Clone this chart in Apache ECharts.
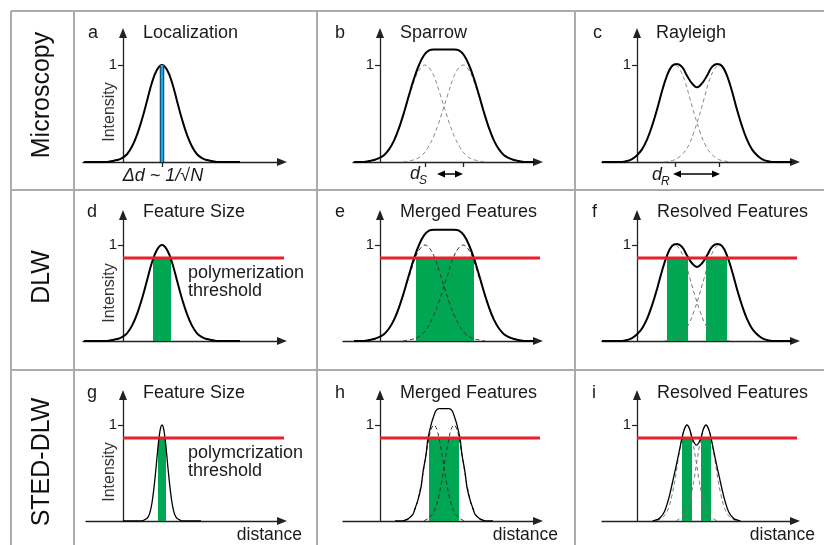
<!DOCTYPE html>
<html>
<head>
<meta charset="utf-8">
<title>Resolution limits: microscopy, DLW, STED-DLW</title>
<script src="https://cdn.jsdelivr.net/npm/echarts@6/dist/echarts.min.js"></script>
<style>
  html, body { margin: 0; padding: 0; background: #fff; }
  #chart { width: 824px; height: 545px; }
</style>
</head>
<body>
<div id="chart"></div>
<script>
// distance is in px-sized units measured from each y axis; intensity 1 = single peak height

// a, d: single diffraction-limited spot
var psfX = [-39, -16, -11, -6, -1, 4, 9, 14, 19, 24, 29, 34, 39, 44, 49, 54, 59, 64, 69, 74, 79, 84, 89, 94, 117];
var psfY = [0, 0, 0.01, 0.02, 0.04, 0.08, 0.16, 0.28, 0.44, 0.63, 0.82, 0.95, 1, 0.95, 0.82, 0.63, 0.44, 0.28, 0.16, 0.08, 0.04, 0.02, 0.01, 0, 0];
var localizationX = 39;

// b, e: Sparrow pair
var sparrowX = [-26, -16, -11, -6, -1, 4, 9, 14, 19, 24, 29, 34, 39, 44, 49, 54, 59, 64, 69, 74, 79, 84, 89, 94, 99, 104, 109, 114, 119, 124, 129, 134, 139, 144, 154];
var sparrowY = [0, 0, 0.01, 0.02, 0.04, 0.07, 0.13, 0.22, 0.35, 0.51, 0.69, 0.86, 1.00, 1.10, 1.15, 1.16, 1.16, 1.16, 1.16, 1.16, 1.15, 1.10, 1.00, 0.86, 0.69, 0.51, 0.35, 0.22, 0.13, 0.07, 0.04, 0.02, 0.01, 0, 0];
var sparrowLeftX = [-15, -10, -5, 0, 5, 10, 15, 20, 25, 30, 35, 40, 45, 50, 55, 60, 65, 70, 75, 80, 85, 90, 95, 100, 105];
var sparrowRightX = [23, 28, 33, 38, 43, 48, 53, 58, 63, 68, 73, 78, 83, 88, 93, 98, 103, 108, 113, 118, 123, 128, 133, 138, 143];
var sparrowDashY = [0, 0.01, 0.02, 0.04, 0.08, 0.15, 0.25, 0.38, 0.54, 0.70, 0.86, 0.96, 1, 0.96, 0.86, 0.70, 0.54, 0.38, 0.25, 0.15, 0.08, 0.04, 0.02, 0.01, 0];
var sparrowTicks = [45, 83];

// c, f: Rayleigh pair
var rayleighX = [-35, -20, -15, -10, -5, 0, 5, 10, 15, 20, 25, 30, 35, 40, 45, 50, 55, 60, 65, 70, 75, 80, 85, 90, 95, 100, 105, 110, 115, 120, 125, 130, 135, 140, 155];
var rayleighY = [0, 0, 0, 0.01, 0.03, 0.07, 0.13, 0.23, 0.37, 0.54, 0.73, 0.89, 0.99, 1.01, 0.98, 0.89, 0.81, 0.77, 0.81, 0.89, 0.98, 1.01, 0.99, 0.89, 0.73, 0.54, 0.37, 0.23, 0.13, 0.07, 0.03, 0.01, 0, 0, 0];
var rayleighLeftX = [-17, -12, -7, -2, 3, 8, 13, 18, 23, 28, 33, 38, 43, 48, 53, 58, 63, 68, 73, 78, 83, 88, 93];
var rayleighRightX = [27, 32, 37, 42, 47, 52, 57, 62, 67, 72, 77, 82, 87, 92, 97, 102, 107, 112, 117, 122, 127, 132, 137];
var rayleighDashY = [0, 0.01, 0.02, 0.05, 0.10, 0.18, 0.31, 0.47, 0.65, 0.83, 0.95, 1, 0.95, 0.83, 0.65, 0.47, 0.31, 0.18, 0.10, 0.05, 0.02, 0.01, 0];
var rayleighTicks = [38, 82];

// g: STED spot
var stedX = [0, 19, 21, 23, 25, 27, 29, 31, 33, 35, 37, 39, 41, 43, 45, 47, 49, 51, 53, 55, 57, 59, 78];
var stedY = [0, 0, 0.01, 0.02, 0.04, 0.09, 0.19, 0.35, 0.55, 0.77, 0.94, 1, 0.94, 0.77, 0.55, 0.35, 0.19, 0.09, 0.04, 0.02, 0.01, 0, 0];

// h: merged STED pair
var stedMergedX = [15, 22, 25, 28, 30, 33, 35, 38, 41, 43, 46, 48, 51, 54, 56, 59, 61, 64, 67, 69, 72, 74, 77, 80, 82, 85, 87, 90, 93, 95, 98, 100, 103, 106, 113];
var stedMergedY = [0, 0, 0.01, 0.02, 0.04, 0.07, 0.13, 0.22, 0.35, 0.51, 0.69, 0.86, 1.00, 1.10, 1.15, 1.17, 1.17, 1.17, 1.17, 1.17, 1.15, 1.10, 1.00, 0.86, 0.69, 0.51, 0.35, 0.22, 0.13, 0.07, 0.04, 0.02, 0.01, 0, 0];
var stedMergedLeftX = [24, 27, 30, 33, 36, 39, 42, 45, 48, 51, 54, 57, 60, 63, 66, 69, 72, 75, 78, 81, 84];
var stedMergedRightX = [44, 47, 50, 53, 56, 59, 62, 65, 68, 71, 74, 77, 80, 83, 86, 89, 92, 95, 98, 101, 104];

// i: resolved STED pair
var stedResolvedX = [15.5, 18.5, 21.5, 24.5, 27.5, 30.5, 33.5, 36.5, 39.5, 42.5, 45, 47.5, 50, 52.5, 55, 57.5, 59.5, 61.5, 64, 66.5, 69, 71.5, 74, 76.5, 79.5, 82.5, 85.5, 88.5, 91.5, 94.5, 97.5, 100.5, 103.5];
var stedResolvedY = [0, 0.01, 0.02, 0.05, 0.10, 0.19, 0.31, 0.45, 0.59, 0.74, 0.865, 0.96, 1.00, 0.96, 0.865, 0.81, 0.79, 0.81, 0.865, 0.96, 1.00, 0.96, 0.865, 0.74, 0.59, 0.45, 0.31, 0.19, 0.10, 0.05, 0.02, 0.01, 0];
var stedResolvedLeftX = [20, 23, 26, 29, 32, 35, 38, 41, 44, 47, 50, 53, 56, 59, 62, 65, 68, 71, 74, 77, 80];
var stedResolvedRightX = [39, 42, 45, 48, 51, 54, 57, 60, 63, 66, 69, 72, 75, 78, 81, 84, 87, 90, 93, 96, 99];
var stedDashY = [0, 0.02, 0.04, 0.08, 0.15, 0.27, 0.43, 0.63, 0.81, 0.95, 1, 0.95, 0.81, 0.63, 0.43, 0.27, 0.15, 0.08, 0.04, 0.02, 0];

// polymerization threshold and written (green) regions
var threshold = 0.865;
var thresholdEnd = [164, 163, 162, 164, 163, 163];   // panels d..i
var writtenD = [[30, 48]];
var writtenE = [[36, 94]];
var writtenF = [[30, 51], [69, 90]];
var writtenG = [[35, 43]];
var writtenH = [[49, 79]];
var writtenI = [[45, 55], [64, 74]];

var yTicks = [1];
var rowNames = ['Microscopy', 'DLW', 'STED-DLW'];
var panelLetters = ['a', 'b', 'c', 'd', 'e', 'f', 'g', 'h', 'i'];
var panelTitles = ['Localization', 'Sparrow', 'Rayleigh', 'Feature Size', 'Merged Features', 'Resolved Features', 'Feature Size', 'Merged Features', 'Resolved Features'];

var FONT = 'Liberation Sans';
var INK = '#1a1a1a';
var RED = '#e8202a';
var GREEN = '#00a651';

// grid boxes, one per panel (px)
var boxes = [
    { left: 83, top: 33, width: 199, height: 129, min: -40, max: 159, ymax: 1.33, ticks: [localizationX] },
    { left: 353, top: 33, width: 185, height: 129, min: -27, max: 158, ymax: 1.33, ticks: sparrowTicks },
    { left: 602, top: 33, width: 193, height: 129, min: -35, max: 158, ymax: 1.33, ticks: rayleighTicks },
    { left: 83, top: 215, width: 199, height: 126, min: -40, max: 159, ymax: 1.3125 },
    { left: 343, top: 215, width: 195, height: 126, min: -37, max: 158, ymax: 1.3125 },
    { left: 602, top: 215, width: 193, height: 126, min: -35, max: 158, ymax: 1.3125 },
    { left: 86, top: 395, width: 196, height: 126, min: -37, max: 159, ymax: 1.3125 },
    { left: 343, top: 395, width: 195, height: 126, min: -37, max: 158, ymax: 1.3125 },
    { left: 602, top: 395, width: 193, height: 126, min: -35, max: 158, ymax: 1.3125 }
];

var axisLine = {
    show: true,
    onZero: true,
    symbol: ['none', 'triangle'],
    symbolSize: [8, 10],
    lineStyle: { color: '#222', width: 1.3 }
};

var grids = [], xAxes = [], yAxes = [];
boxes.forEach(function (b, i) {
    grids.push({ left: b.left, top: b.top, width: b.width, height: b.height, containLabel: false });
    xAxes.push({
        type: 'value', gridIndex: i, min: b.min, max: b.max,
        axisLine: axisLine,
        axisTick: b.ticks ? { show: true, customValues: b.ticks, length: 5, lineStyle: { color: '#222', width: 1.3 } } : { show: false },
        axisLabel: { show: false },
        splitLine: { show: false }
    });
    yAxes.push({
        type: 'value', gridIndex: i, min: 0, max: b.ymax,
        axisLine: axisLine,
        axisTick: { show: true, customValues: yTicks, length: 5, lineStyle: { color: '#222', width: 1.2 } },
        // labels stay at the grid edge, so pull them in next to the zero-line axis
        axisLabel: { show: true, customValues: yTicks, margin: 6 + b.min, fontSize: 15, color: INK, fontFamily: FONT },
        splitLine: { show: false }
    });
});

function pairs(xs, ys) {
    return xs.map(function (x, i) { return [x, ys[i]]; });
}

function curve(p, xs, ys, width) {
    return {
        type: 'line', xAxisIndex: p, yAxisIndex: p, data: pairs(xs, ys),
        smooth: 0.4, symbol: 'none', silent: true,
        lineStyle: { color: '#000', width: width }
    };
}

function dashed(p, xs, ys, color) {
    return {
        type: 'line', xAxisIndex: p, yAxisIndex: p, data: pairs(xs, ys),
        smooth: 0.4, symbol: 'none', silent: true,
        lineStyle: { color: color, width: 1, type: [4, 3] }
    };
}

function written(p, spans) {
    return spans.map(function (s) {
        return {
            type: 'line', xAxisIndex: p, yAxisIndex: p,
            data: [[s[0], threshold], [s[1], threshold]],
            symbol: 'none', silent: true,
            lineStyle: { width: 0 },
            areaStyle: { color: GREEN, opacity: 1 }
        };
    });
}

function thresholdLine(p) {
    return {
        type: 'line', xAxisIndex: p, yAxisIndex: p, clip: false,
        data: [[0, threshold], [thresholdEnd[p - 3], threshold]],
        symbol: 'none', silent: true,
        lineStyle: { color: RED, width: 3 }
    };
}

var series = [];
// row 1: microscopy
series.push(curve(0, psfX, psfY, 2));
series.push({
    type: 'line', xAxisIndex: 0, yAxisIndex: 0, symbol: 'none', silent: true,
    data: [[localizationX, 0], [localizationX, 1]], lineStyle: { color: '#0b3d5a', width: 4.5 }
});
series.push({
    type: 'line', xAxisIndex: 0, yAxisIndex: 0, symbol: 'none', silent: true,
    data: [[localizationX, 0], [localizationX, 1]], lineStyle: { color: '#1aa7e1', width: 2.5 }
});
series.push(dashed(1, sparrowLeftX, sparrowDashY, '#8a8a8a'));
series.push(dashed(1, sparrowRightX, sparrowDashY, '#8a8a8a'));
series.push(curve(1, sparrowX, sparrowY, 2));
series.push(dashed(2, rayleighLeftX, rayleighDashY, '#8a8a8a'));
series.push(dashed(2, rayleighRightX, rayleighDashY, '#8a8a8a'));
series.push(curve(2, rayleighX, rayleighY, 2));

// row 2: DLW
series = series.concat(written(3, writtenD));
series.push(curve(3, psfX, psfY, 2));
series.push(thresholdLine(3));
series = series.concat(written(4, writtenE));
series.push(dashed(4, sparrowLeftX, sparrowDashY, '#333'));
series.push(dashed(4, sparrowRightX, sparrowDashY, '#333'));
series.push(curve(4, sparrowX, sparrowY, 2));
series.push(thresholdLine(4));
series = series.concat(written(5, writtenF));
series.push(dashed(5, rayleighLeftX, rayleighDashY, '#777'));
series.push(dashed(5, rayleighRightX, rayleighDashY, '#777'));
series.push(curve(5, rayleighX, rayleighY, 2));
series.push(thresholdLine(5));

// row 3: STED-DLW
series = series.concat(written(6, writtenG));
series.push(curve(6, stedX, stedY, 1.3));
series.push(thresholdLine(6));
series = series.concat(written(7, writtenH));
series.push(dashed(7, stedMergedLeftX, stedDashY, '#333'));
series.push(dashed(7, stedMergedRightX, stedDashY, '#333'));
series.push(curve(7, stedMergedX, stedMergedY, 1.3));
series.push(thresholdLine(7));
series = series.concat(written(8, writtenI));
series.push(dashed(8, stedResolvedLeftX, stedDashY, '#777'));
series.push(dashed(8, stedResolvedRightX, stedDashY, '#777'));
series.push(curve(8, stedResolvedX, stedResolvedY, 1.3));
series.push(thresholdLine(8));

// ---- texts, table lines, annotation arrows ----
function text(x, y, str, size, opts) {
    opts = opts || {};
    return {
        type: 'text', x: x, y: y, rotation: opts.rotation || 0, silent: true,
        style: {
            text: str, fontSize: size, fontFamily: FONT, fontStyle: opts.italic ? 'italic' : 'normal',
            fill: opts.color || INK,
            align: opts.align || 'left', verticalAlign: 'middle',
            textAlign: opts.align || 'left', textVerticalAlign: 'middle'
        }
    };
}

function rule(x1, y1, x2, y2) {
    return { type: 'line', silent: true, shape: { x1: x1, y1: y1, x2: x2, y2: y2 }, style: { stroke: '#ababab', lineWidth: 2 } };
}

function doubleArrow(x1, x2, y) {
    return [
        { type: 'line', silent: true, shape: { x1: x1 + 5, y1: y, x2: x2 - 5, y2: y }, style: { stroke: '#000', lineWidth: 1.5 } },
        { type: 'polygon', silent: true, shape: { points: [[x1, y], [x1 + 8, y - 3.5], [x1 + 8, y + 3.5]] }, style: { fill: '#000' } },
        { type: 'polygon', silent: true, shape: { points: [[x2, y], [x2 - 8, y - 3.5], [x2 - 8, y + 3.5]] }, style: { fill: '#000' } }
    ];
}

var graphics = [
    rule(11, 11, 824, 11), rule(11, 190, 824, 190), rule(11, 370, 824, 370),
    rule(11, 11, 11, 545), rule(74, 11, 74, 545), rule(317, 11, 317, 545), rule(575, 11, 575, 545)
];

var rowCenters = [95, 277, 462];
rowNames.forEach(function (n, r) {
    graphics.push(text(42, rowCenters[r], n, 25, { rotation: Math.PI / 2, align: 'center', color: '#111' }));
});

var letterPos = [[88, 33], [335, 33], [593, 33], [87, 212], [335, 212], [592, 212], [87, 393], [335, 393], [592, 393]];
var titlePos = [[143, 33], [400, 33], [656, 33], [143, 212], [400, 212], [657, 212], [143, 393], [400, 393], [657, 393]];
panelLetters.forEach(function (l, i) {
    graphics.push(text(letterPos[i][0], letterPos[i][1], l, 18));
    graphics.push(text(titlePos[i][0], titlePos[i][1], panelTitles[i], 18));
});

[112, 293, 472].forEach(function (y) {
    graphics.push(text(110, y, 'Intensity', 16, { rotation: Math.PI / 2, align: 'center', color: '#333' }));
});

graphics.push(text(188, 273, 'polymerization', 18));
graphics.push(text(188, 291, 'threshold', 18));
graphics.push(text(188, 453, 'polymcrization', 18));
graphics.push(text(188, 471, 'threshold', 18));

graphics.push(text(163, 176, 'Δd ~ 1/√N', 18, { italic: true, align: 'center' }));
graphics.push(text(410, 174, 'd', 18, { italic: true }));
graphics.push(text(419, 181, 'S', 12, { italic: true }));
graphics.push(text(652, 175, 'd', 18, { italic: true }));
graphics.push(text(661, 182, 'R', 12, { italic: true }));
graphics = graphics.concat(doubleArrow(437, 463, 174), doubleArrow(673, 720, 174));

[302, 558, 815].forEach(function (x) {
    graphics.push(text(x, 535, 'distance', 17.5, { align: 'right' }));
});

var chart = echarts.init(document.getElementById('chart'));
chart.setOption({
    animation: false,
    backgroundColor: '#fff',
    textStyle: { fontFamily: FONT },
    grid: grids,
    xAxis: xAxes,
    yAxis: yAxes,
    series: series,
    graphic: { elements: graphics }
});

window.addEventListener('resize', function () {
    chart.resize();
});
</script>
</body>
</html>
